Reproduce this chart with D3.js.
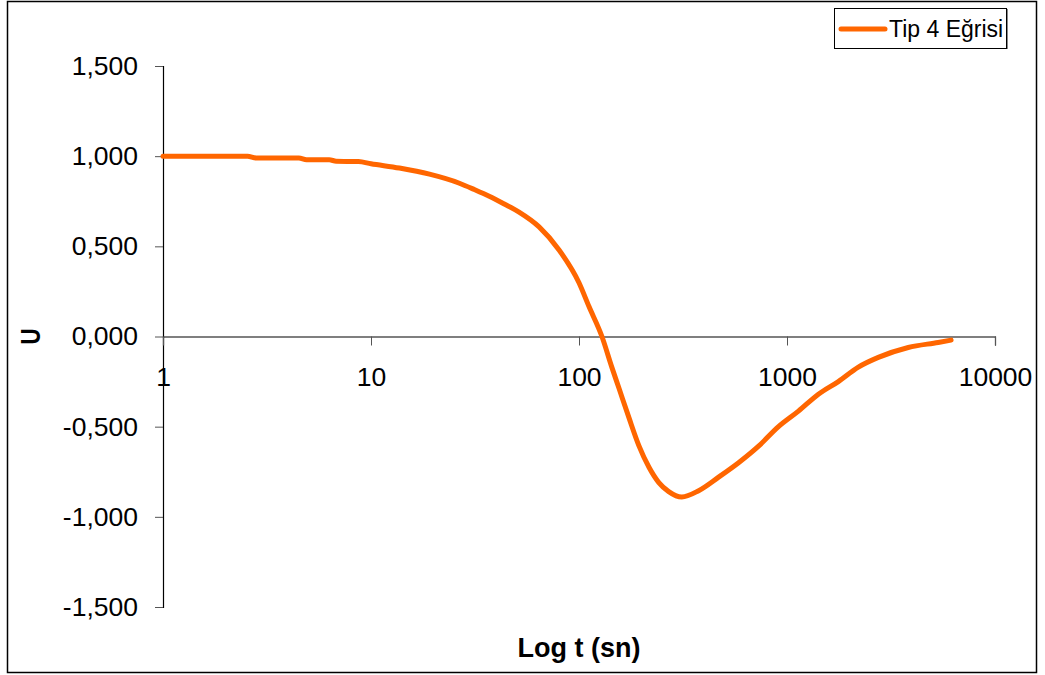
<!DOCTYPE html>
<html>
<head>
<meta charset="utf-8">
<script src="https://cdn.jsdelivr.net/npm/d3@7"></script>
<style>
  html, body { margin: 0; padding: 0; background: #fff; }
  svg { display: block; font-family: "Liberation Sans", Arial, sans-serif; }
</style>
</head>
<body>
<svg id="chart" width="1045" height="675"></svg>
<script>
// Time (s) and U readings for the type-4 curve
const tValues = [1, 2.55, 2.8, 4.5, 4.9, 6.3, 6.8, 8.7, 10, 13.7, 19.1, 26.6, 31.4, 37, 43.7, 51.5, 64.3, 80.2, 100, 111.7, 128.9, 143.9, 156, 173.8, 194, 217, 242, 270, 312, 376, 469, 585, 730, 910, 1135, 1416, 1766, 2203, 2748, 3828, 5333, 6151];
const uValues = [1.0, 1.0, 0.99, 0.99, 0.98, 0.98, 0.972, 0.97, 0.958, 0.934, 0.90, 0.85, 0.815, 0.778, 0.735, 0.69, 0.608, 0.48, 0.298, 0.166, 0.0, -0.171, -0.29, -0.45, -0.605, -0.725, -0.81, -0.86, -0.89, -0.855, -0.78, -0.70, -0.608, -0.50, -0.414, -0.32, -0.25, -0.17, -0.116, -0.061, -0.033, -0.02];
const xTickValues = [1, 10, 100, 1000, 10000];
const yTickValues = [-1.5, -1.0, -0.5, 0, 0.5, 1.0, 1.5];
const seriesName = "Tip 4 Eğrisi";

const svg = d3.select("#chart");
const lineColor = "#FF6600";

// outer frame
svg.append("rect")
  .attr("x", 7.5).attr("y", 1.5)
  .attr("width", 1029).attr("height", 671)
  .attr("fill", "none").attr("stroke", "#000").attr("stroke-width", 1.5);

const x = d3.scaleLog().domain([1, 10000]).range([163, 995]);
const y = d3.scaleLinear().domain([-1.5, 1.5]).range([607, 66]);

// Tick labels use a comma as the decimal mark, e.g. "1,500"
const yLabel = v => {
  const s = Math.abs(v).toFixed(3).replace(".", ",");
  return (v < 0 ? "-" : "") + s;
};

// y axis
const yAxis = svg.append("g").attr("transform", "translate(163,0)")
  .call(d3.axisLeft(y).tickValues(yTickValues).tickSize(8).tickPadding(17).tickFormat(yLabel));
yAxis.select(".domain").attr("stroke", "#000").attr("stroke-width", 1.2);
yAxis.selectAll(".tick line").attr("stroke", "#555");
yAxis.selectAll("text").attr("font-size", 26.5).attr("fill", "#000")
  .attr("font-family", "'Liberation Sans', Arial, sans-serif");

// x axis at U = 0
const xAxis = svg.append("g").attr("transform", `translate(0,${y(0)})`)
  .call(d3.axisBottom(x).tickValues(xTickValues).tickSize(9).tickPadding(22).tickFormat(d3.format("d")));
xAxis.select(".domain").attr("stroke", "#000").attr("stroke-width", 1.2);
xAxis.selectAll(".tick line").attr("stroke", "#555");
xAxis.selectAll("text").attr("font-size", 26.5).attr("fill", "#000")
  .attr("font-family", "'Liberation Sans', Arial, sans-serif");

// curve
const pts = tValues.map((t, i) => [t, uValues[i]]);
svg.append("path")
  .datum(pts)
  .attr("fill", "none")
  .attr("stroke", lineColor)
  .attr("stroke-width", 5)
  .attr("stroke-linejoin", "round")
  .attr("stroke-linecap", "round")
  .attr("d", d3.line().x(d => x(d[0])).y(d => y(d[1])).curve(d3.curveMonotoneX));

// axis titles
svg.append("text")
  .attr("transform", `translate(${40},${y(0)}) rotate(-90) scale(0.8,1)`)
  .attr("text-anchor", "middle")
  .attr("font-size", 28).attr("font-weight", "bold")
  .text("U");

svg.append("text")
  .attr("x", 579).attr("y", 657)
  .attr("text-anchor", "middle")
  .attr("font-size", 27).attr("font-weight", "bold")
  .text("Log t (sn)");

// legend
const lg = svg.append("g");
lg.append("rect").attr("x", 834.5).attr("y", 8.5).attr("width", 172).attr("height", 40)
  .attr("fill", "#fff").attr("stroke", "#000").attr("stroke-width", 1);
lg.append("line").attr("x1", 1007.5).attr("x2", 1007.5).attr("y1", 9).attr("y2", 49)
  .attr("stroke", "#888").attr("stroke-width", 1);
lg.append("line").attr("x1", 841).attr("x2", 885).attr("y1", 29).attr("y2", 29)
  .attr("stroke", lineColor).attr("stroke-width", 5).attr("stroke-linecap", "round");
lg.append("text").attr("x", 889).attr("y", 37)
  .attr("font-size", 23).text(seriesName);
</script>
</body>
</html>
